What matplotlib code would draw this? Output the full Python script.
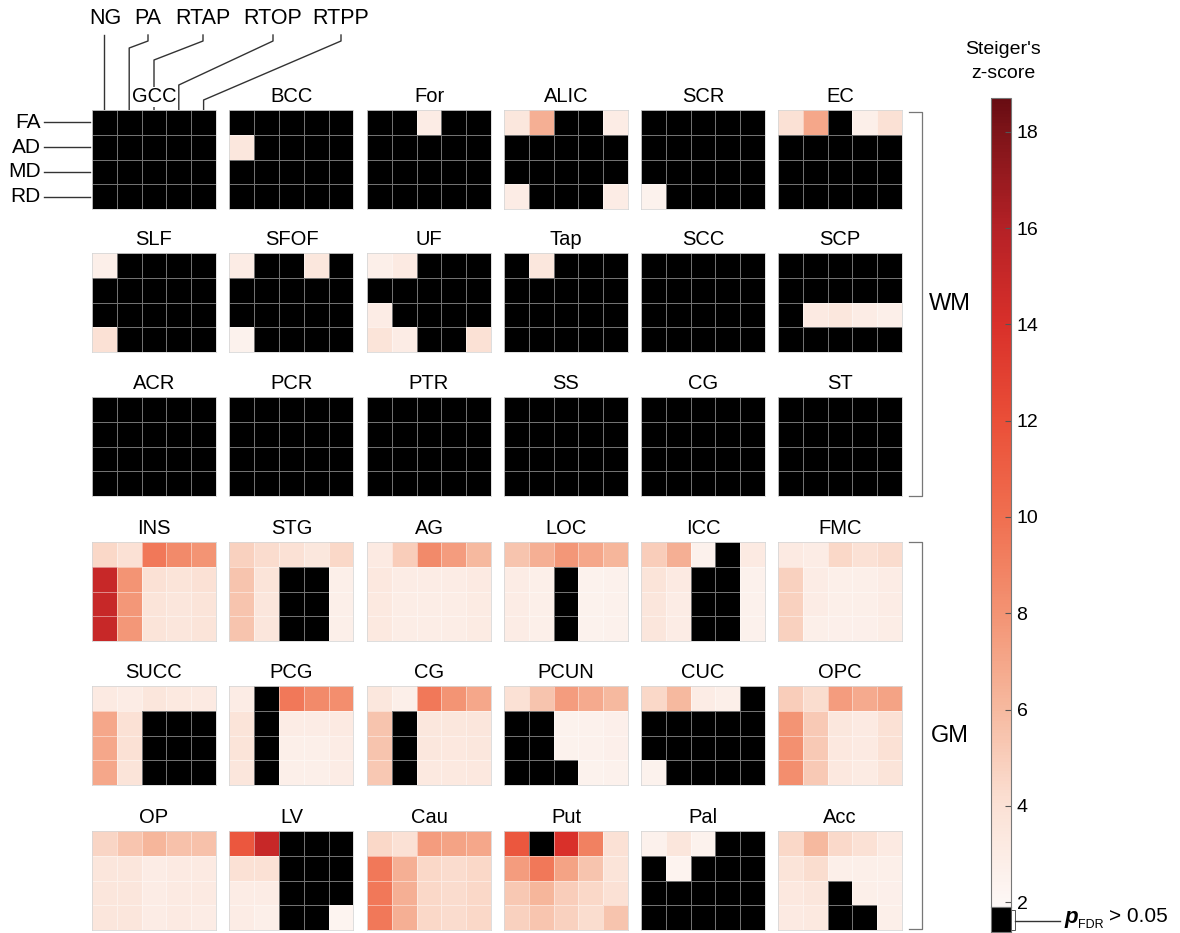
import numpy as np
import matplotlib
matplotlib.use("Agg")
import matplotlib.pyplot as plt
from matplotlib.colors import LinearSegmentedColormap, Normalize
from matplotlib.cm import ScalarMappable
from matplotlib.lines import Line2D
from matplotlib.patches import Rectangle

plt.rcParams['font.family'] = ['Liberation Sans', 'DejaVu Sans']

nan = np.nan

metrics = ['FA', 'AD', 'MD', 'RD']
models = ['NG', 'PA', 'RTAP', 'RTOP', 'RTPP']

wm_names = ['GCC', 'BCC', 'For', 'ALIC', 'SCR', 'EC',
            'SLF', 'SFOF', 'UF', 'Tap', 'SCC', 'SCP',
            'ACR', 'PCR', 'PTR', 'SS', 'CG', 'ST']
gm_names = ['INS', 'STG', 'AG', 'LOC', 'ICC', 'FMC',
            'SUCC', 'PCG', 'CG', 'PCUN', 'CUC', 'OPC',
            'OP', 'LV', 'Cau', 'Put', 'Pal', 'Acc']

# Steiger's z per region: rows = metrics, cols = models; nan = p_FDR > 0.05
all_ns = [[nan] * 5 for _ in range(4)]
wm_z = [
    all_ns,
    [[nan, nan, nan, nan, nan], [3.5, nan, nan, nan, nan], [nan] * 5, [nan] * 5],
    [[nan, nan, 3.0, nan, nan], [nan] * 5, [nan] * 5, [nan] * 5],
    [[3.5, 6.5, nan, nan, 3.0], [nan] * 5, [nan] * 5, [3.0, nan, nan, nan, 3.0]],
    [[nan] * 5, [nan] * 5, [nan] * 5, [2.5, nan, nan, nan, nan]],
    [[4.0, 7.0, nan, 2.8, 4.0], [nan] * 5, [nan] * 5, [nan] * 5],
    [[2.8, nan, nan, nan, nan], [nan] * 5, [nan] * 5, [4.0, nan, nan, nan, nan]],
    [[3.0, nan, nan, 3.5, nan], [nan] * 5, [nan] * 5, [2.5, nan, nan, nan, nan]],
    [[2.8, 3.2, nan, nan, nan], [nan] * 5, [3.0, nan, nan, nan, nan], [3.8, 3.0, nan, nan, 4.0]],
    [[nan, 3.5, nan, nan, nan], [nan] * 5, [nan] * 5, [nan] * 5],
    all_ns,
    [[nan] * 5, [nan] * 5, [nan, 3.2, 3.5, 3.0, 2.8], [nan] * 5],
    all_ns, all_ns, all_ns, all_ns, all_ns, all_ns,
]
gm_z = [
    [[4.5, 4.0, 9.5, 8.5, 8.0], [15.0, 8.0, 4.0, 3.8, 4.0],
     [15.0, 7.8, 3.8, 3.6, 3.8], [15.0, 7.8, 3.8, 3.6, 3.8]],
    [[4.8, 4.3, 4.0, 3.5, 4.5], [5.5, 3.8, nan, nan, 2.8],
     [5.5, 3.6, nan, nan, 2.8], [5.5, 3.6, nan, nan, 2.8]],
    [[3.2, 5.0, 8.5, 7.5, 6.0], [3.4, 3.0, 3.0, 3.0, 3.2],
     [3.3, 2.9, 2.9, 2.9, 3.1], [3.3, 2.9, 2.9, 2.9, 3.1]],
    [[5.5, 6.5, 7.8, 7.0, 6.2], [3.0, 2.8, nan, 2.5, 2.6],
     [3.0, 2.8, nan, 2.5, 2.6], [3.0, 2.8, nan, 2.5, 2.6]],
    [[5.0, 6.5, 2.6, nan, 3.2], [3.8, 3.2, nan, nan, 2.6],
     [3.6, 3.0, nan, nan, 2.6], [3.6, 3.0, nan, nan, 2.6]],
    [[3.2, 3.0, 4.5, 4.0, 4.3], [4.8, 3.0, 2.8, 2.8, 3.0],
     [4.8, 3.0, 2.8, 2.8, 3.0], [4.8, 2.8, 2.7, 2.7, 2.9]],
    [[3.2, 3.0, 3.6, 3.3, 3.2], [7.0, 4.0, nan, nan, nan],
     [7.0, 4.0, nan, nan, nan], [7.0, 3.8, nan, nan, nan]],
    [[3.0, nan, 9.5, 8.5, 8.3], [3.8, nan, 3.0, 3.0, 3.2],
     [3.8, nan, 2.8, 2.8, 3.0], [3.6, nan, 2.8, 2.8, 3.0]],
    [[3.5, 2.8, 9.5, 8.0, 7.0], [5.5, nan, 3.5, 3.5, 3.6],
     [5.5, nan, 3.5, 3.4, 3.5], [5.3, nan, 3.3, 3.3, 3.4]],
    [[4.0, 5.5, 7.5, 6.8, 6.0], [nan, nan, 2.5, 2.6, 2.7],
     [nan, nan, 2.5, 2.6, 2.7], [nan, nan, nan, 2.5, 2.6]],
    [[4.5, 6.0, 3.0, 2.8, nan], [nan] * 5, [nan] * 5, [2.5, nan, nan, nan, nan]],
    [[5.0, 4.2, 7.5, 6.8, 7.2], [8.0, 5.2, 3.5, 3.2, 4.0],
     [8.2, 5.2, 3.4, 3.2, 4.0], [8.3, 5.2, 3.4, 3.1, 3.8]],
    [[4.6, 5.4, 6.2, 5.6, 5.6], [3.6, 3.6, 3.0, 3.2, 3.2],
     [3.6, 3.6, 3.0, 3.2, 3.2], [3.6, 3.6, 3.0, 3.2, 3.0]],
    [[11.5, 15.0, nan, nan, nan], [4.0, 4.0, nan, nan, nan],
     [3.0, 3.0, nan, nan, nan], [3.0, 2.8, nan, nan, 2.3]],
    [[4.5, 4.0, 7.5, 7.2, 7.0], [9.5, 6.5, 4.5, 4.3, 4.5],
     [9.5, 6.5, 4.5, 4.3, 4.5], [9.5, 6.5, 4.5, 4.3, 4.5]],
    [[11.5, nan, 14.0, 9.0, 4.0], [7.5, 9.5, 7.2, 5.5, 3.8],
     [5.3, 6.2, 5.0, 4.5, 4.0], [4.8, 5.4, 4.8, 4.2, 5.5]],
    [[2.6, 3.6, 2.5, nan, nan], [nan, 2.4, nan, nan, nan], [nan] * 5, [nan] * 5],
    [[4.5, 6.0, 4.4, 4.0, 3.2], [3.8, 4.2, 2.8, 2.8, 2.8],
     [3.4, 3.6, nan, 2.8, 2.7], [3.2, 3.3, nan, nan, 2.8]],
]

cbar_ticks = [2, 4, 6, 8, 10, 12, 14, 16, 18]
vmin, vmax = 1.9, 18.7

# white -> salmon -> red -> dark red
stops = [(1.9, '#fdf8f6'), (4, '#fbe1d5'), (6, '#f6b99f'), (8, '#f39373'),
         (10, '#f06f50'), (12, '#ea4f38'), (14, '#d9302a'), (16, '#b52126'),
         (18, '#7e1419'), (18.7, '#680c12')]
cmap = LinearSegmentedColormap.from_list(
    'steiger', [((v - vmin) / (vmax - vmin), c) for v, c in stops])
cmap.set_bad('black')
norm = Normalize(vmin, vmax)

W, H = 1180, 933
fig = plt.figure(figsize=(W / 100, H / 100), dpi=100)


def px_axes(x, y, w, h):
    return fig.add_axes([x / W, 1 - (y + h) / H, w / W, h / H])


col_x = [92, 229.5, 367, 504, 641, 778]
row_y = [110, 253, 397, 542, 686, 831]
pw, ph = 124, 99

for block, (names, data) in enumerate([(wm_names, wm_z), (gm_names, gm_z)]):
    for i, (name, z) in enumerate(zip(names, data)):
        r, c = block * 3 + i // 6, i % 6
        ax = px_axes(col_x[c], row_y[r], pw, ph)
        arr = np.ma.masked_invalid(np.array(z, dtype=float))
        ax.pcolormesh(arr, cmap=cmap, norm=norm,
                      edgecolors=(1, 1, 1, 0.45), linewidth=0.5)
        ax.set_xlim(0, 5)
        ax.set_ylim(4, 0)
        ax.set_xticks([])
        ax.set_yticks([])
        for s in ax.spines.values():
            s.set_color('#d0d0d0')
            s.set_linewidth(0.5)
        t = ax.set_title(name, fontsize=14.5, pad=5.5)
        if block == 0 and i == 0:
            t.set_bbox(dict(facecolor='white', edgecolor='none', pad=0.5))

# model labels with leader lines into the first panel
def fig_line(xs, ys, **kw):
    fig.add_artist(Line2D([x / W for x in xs], [1 - y / H for y in ys],
                          color='#333333', lw=1.0, zorder=-1, **kw))


cell_w = pw / 5
label_x = [105, 148, 203, 273, 341]
bend_y = [None, 48, 60, 85, 100]
for j, (m, lx) in enumerate(zip(models, label_x)):
    fig.text(lx / W, 1 - 19 / H, m, fontsize=15.5, ha='center', va='center')
    cx = col_x[0] + cell_w * (j + 0.5)
    if j == 0:
        fig_line([cx, cx], [35, row_y[0]])
    else:
        fig_line([lx, lx, cx, cx], [35, 41, bend_y[j], row_y[0]])

for k, m in enumerate(metrics):
    cy = row_y[0] + ph / 4 * (k + 0.5)
    fig.text(41 / W, 1 - cy / H, m, fontsize=15, ha='right', va='center')
    fig_line([44, 90], [cy, cy])

# WM / GM brackets
for label, top, bot in [('WM', row_y[0] + 2, row_y[2] + ph), ('GM', row_y[3], row_y[5] + ph - 1)]:
    fig.add_artist(Line2D([909 / W, 922 / W, 922 / W, 909 / W],
                          [1 - top / H, 1 - top / H, 1 - bot / H, 1 - bot / H],
                          color='#777777', lw=0.9))
    fig.text(950 / W, 1 - (top + bot) / 2 / H, label, fontsize=17,
             ha='center', va='center')

# colour bar
cax = px_axes(991, 98, 20, 809)
cb = fig.colorbar(ScalarMappable(norm=norm, cmap=cmap), cax=cax, ticks=cbar_ticks)
cb.outline.set_edgecolor('#777777')
cb.outline.set_linewidth(0.8)
cax.tick_params(direction='in', length=4, width=0.8, color='#555555',
                labelsize=14, pad=4)
fig.text(1003 / W, 1 - 50 / H, "Steiger's", fontsize=14, ha='center', va='center')
fig.text(1003 / W, 1 - 73 / H, 'z-score', fontsize=14, ha='center', va='center')

bax = px_axes(991, 907, 20, 25)
bax.set_facecolor('black')
bax.set_xticks([])
bax.set_yticks([])
for s in bax.spines.values():
    s.set_color('#777777')
    s.set_linewidth(0.8)
fig.add_artist(Rectangle((1011 / W, 1 - 930 / H), 4 / W, 20 / H,
                         facecolor='white', edgecolor='#555555', lw=0.7))
fig.add_artist(Line2D([1015 / W, 1060 / W], [1 - 921 / H, 1 - 921 / H],
                      color='#333333', lw=1.0))
fig.text(1064 / W, 1 - 918 / H, 'p', fontsize=16, fontweight='bold',
         style='italic', ha='left', va='center')
fig.text(1078 / W, 1 - 925 / H, 'FDR', fontsize=9, ha='left', va='center')
fig.text(1109 / W, 1 - 916 / H, '> 0.05', fontsize=15, ha='left', va='center')

fig.savefig('out.png', dpi=100)
